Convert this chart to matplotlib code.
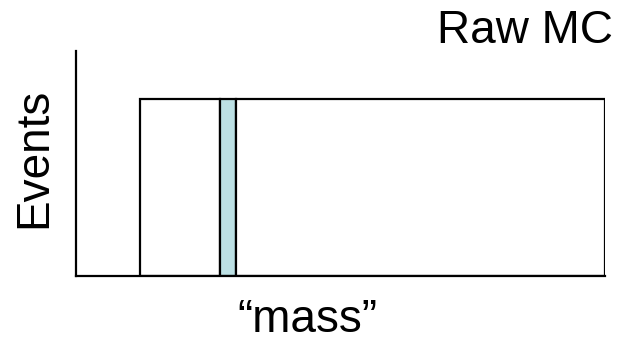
import numpy as np
import matplotlib.pyplot as plt

plt.rcParams['font.family'] = ['Liberation Sans', 'DejaVu Sans']

# flat "raw MC" mass distribution, one highlighted bin
bin_edges = [12.1, 27.2, 30.2, 100.0]
bin_counts = [0.787, 0.787, 0.787]
highlight = 1

title = "Raw MC"
xlabel = "\u201cmass\u201d"
ylabel = "Events"

fig = plt.figure(figsize=(6.22, 3.44), dpi=100)
ax = fig.add_axes([76 / 622, 68 / 344, 529 / 622, 225 / 344])

edges = np.array(bin_edges)
widths = np.diff(edges)
colors = ['white'] * len(bin_counts)
colors[highlight] = '#bce0e4'
ax.bar(edges[:-1], bin_counts, width=widths, align='edge',
       color=colors, edgecolor='black', linewidth=1.6, zorder=2)

ax.set_xlim(0, 100)
ax.set_ylim(0, 1)
ax.spines['top'].set_visible(False)
ax.spines['right'].set_visible(False)
ax.spines['left'].set_linewidth(1.6)
ax.spines['bottom'].set_linewidth(1.6)
ax.set_xticks([])
ax.set_yticks([])

fs = 33
fig.text(613 / 622, 1 - 43 / 344, title, ha='right', va='baseline', fontsize=fs)
fig.text(307 / 622, 1 - 332 / 344, xlabel, ha='center', va='baseline', fontsize=fs)
fig.text(46 / 622, 1 - 157.5 / 344, ylabel, ha='center', va='baseline',
         rotation=90, rotation_mode='anchor', fontsize=fs)

fig.savefig('out.png', dpi=100)
